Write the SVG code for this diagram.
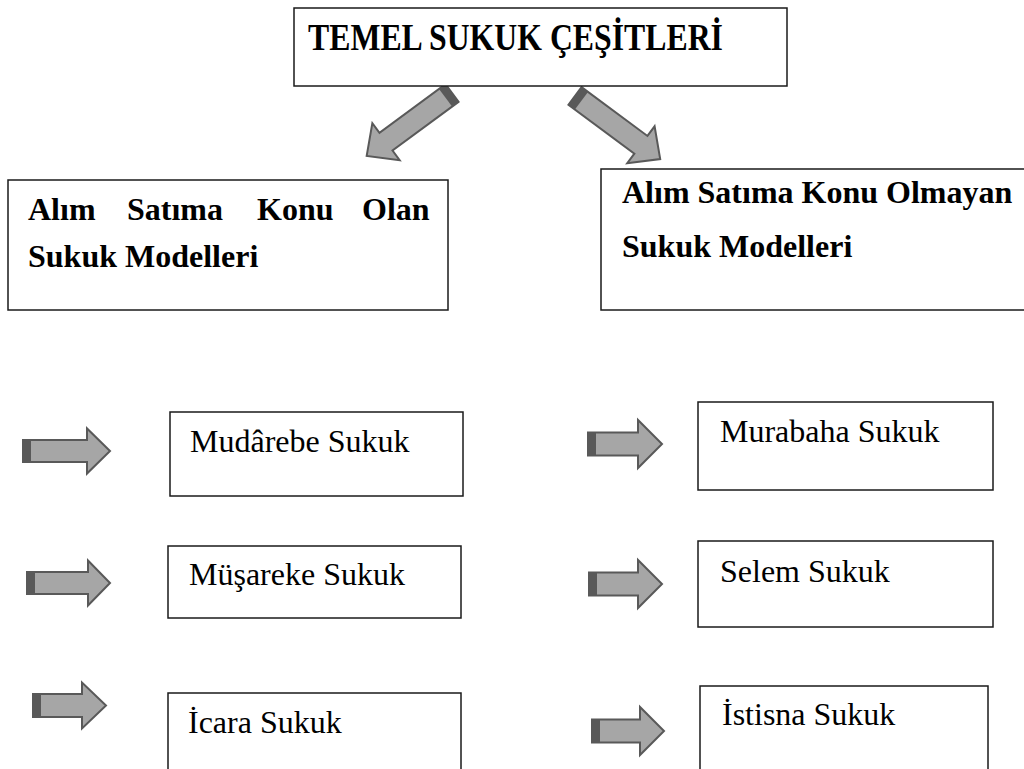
<svg xmlns="http://www.w3.org/2000/svg" width="1024" height="769" viewBox="0 0 1024 769">
  <style>
    .box { fill: #ffffff; stroke: #1a1a1a; stroke-width: 1.5; }
    .hd { font-family: "Liberation Serif", "Times New Roman", serif; font-weight: bold; font-size: 32px; fill: #000; }
    .ttl { font-family: "Liberation Serif", "Times New Roman", serif; font-weight: bold; font-size: 37px; fill: #000; }
    .lb { font-family: "Liberation Serif", "Times New Roman", serif; font-size: 32px; fill: #000; }
    .arr { fill: #a6a6a6; stroke: #595959; stroke-width: 2; stroke-linejoin: miter; }
    .cap { fill: #595959; }
  </style>
  <defs>
    <!-- diagonal block arrow, tail at origin pointing along +x -->
    <g id="diag">
      <path class="arr" d="M0,-11 H82 V-23 L106,0 L82,23 V11 H0 Z"/>
      <rect class="cap" x="0" y="-11" width="8" height="22"/>
    </g>
  </defs>

  <rect width="1024" height="769" fill="#ffffff"/>

  <g id="connectors">
    <use href="#diag" transform="translate(452,93) rotate(143.6)"/>
    <use href="#diag" transform="translate(575,96) rotate(36.5)"/>

    <!-- left column arrows -->
    <path class="arr" d="M23,440 H87 V428.5 L110,451 L87,473.5 V462 H23 Z"/>
    <rect class="cap" x="23" y="440" width="8" height="22"/>
    <path class="arr" d="M27,572 H88 V560.5 L110,583 L88,605.5 V594 H27 Z"/>
    <rect class="cap" x="27" y="572" width="8" height="22"/>
    <path class="arr" d="M33,694 H82 V682.5 L106,705.5 L82,728.5 V717 H33 Z"/>
    <rect class="cap" x="33" y="694" width="8" height="23"/>

    <!-- right column arrows -->
    <path class="arr" d="M588,432.5 H638 V420 L662,444 L638,468 V455.5 H588 Z"/>
    <rect class="cap" x="588" y="432.5" width="8" height="23"/>
    <path class="arr" d="M589,572.5 H638 V560 L662,584 L638,608 V595.5 H589 Z"/>
    <rect class="cap" x="589" y="572.5" width="8" height="23"/>
    <path class="arr" d="M592,719.5 H640 V707 L664,731 L640,755 V742.5 H592 Z"/>
    <rect class="cap" x="592" y="719.5" width="8" height="23"/>
  </g>

  <g id="root">
    <rect class="box" x="294" y="8" width="493" height="78"/>
    <text class="ttl" x="308" y="50" textLength="415" lengthAdjust="spacingAndGlyphs">TEMEL SUKUK ÇEŞİTLERİ</text>
  </g>

  <g id="traded">
    <rect class="box" x="8" y="180" width="440" height="130"/>
    <text class="hd" y="220"><tspan x="28">Alım</tspan><tspan x="127">Satıma</tspan><tspan x="257">Konu</tspan><tspan x="362">Olan</tspan></text>
    <text class="hd" x="28" y="267">Sukuk Modelleri</text>
  </g>

  <g id="nontraded">
    <rect class="box" x="601" y="169" width="440" height="141"/>
    <text class="hd" x="622" y="203">Alım Satıma Konu Olmayan</text>
    <text class="hd" x="622" y="257">Sukuk Modelleri</text>
  </g>

  <g id="mudarebe">
    <rect class="box" x="170" y="412" width="293" height="84"/>
    <text class="lb" x="190" y="452">Mudârebe Sukuk</text>
  </g>
  <g id="musareke">
    <rect class="box" x="168" y="546" width="293" height="72"/>
    <text class="lb" x="189" y="585">Müşareke Sukuk</text>
  </g>
  <g id="icara">
    <rect class="box" x="168" y="693" width="293" height="85"/>
    <text class="lb" x="188" y="733">İcara Sukuk</text>
  </g>

  <g id="murabaha">
    <rect class="box" x="698" y="402" width="295" height="88"/>
    <text class="lb" x="720" y="442">Murabaha Sukuk</text>
  </g>
  <g id="selem">
    <rect class="box" x="698" y="541" width="295" height="86"/>
    <text class="lb" x="720" y="582">Selem Sukuk</text>
  </g>
  <g id="istisna">
    <rect class="box" x="700" y="686" width="288" height="95"/>
    <text class="lb" x="722" y="725">İstisna Sukuk</text>
  </g>
</svg>
